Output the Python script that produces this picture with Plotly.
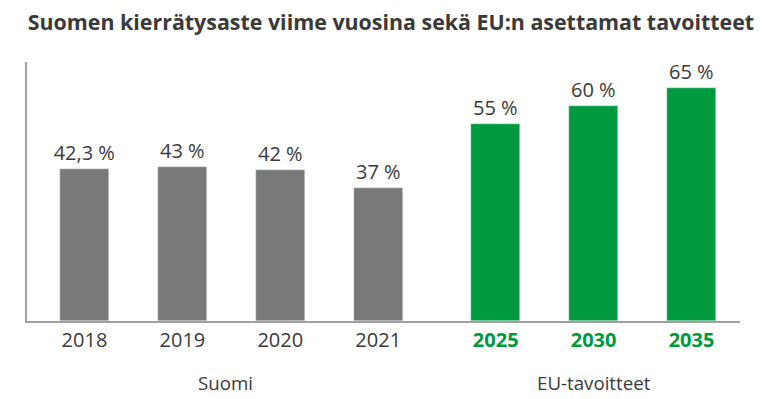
import plotly.graph_objects as go

title = "Suomen kierrätysaste viime vuosina sekä EU:n asettamat tavoitteet"
fi_years = ["2018", "2019", "2020", "2021"]
fi_values = [42.3, 43, 42, 37]
fi_labels = ["42,3 %", "43 %", "42 %", "37 %"]
eu_years = ["2025", "2030", "2035"]
eu_values = [55, 60, 65]
eu_labels = ["55 %", "60 %", "65 %"]
group_names = ["Suomi", "EU-tavoitteet"]

GRAY = "#7a7979"
GREEN = "#009a3e"
TEXT = "#3a3a3a"
GAP = 0.2

fi_x = list(range(len(fi_years)))
eu_x = [len(fi_years) + GAP + i for i in range(len(eu_years))]

fig = go.Figure()
fig.add_bar(x=fi_x, y=fi_values, text=fi_labels, marker_color=GRAY, width=0.5,
            textposition="outside", cliponaxis=False, constraintext="none",
            textfont=dict(family="Open Sans", size=20, color=TEXT))
fig.add_bar(x=eu_x, y=eu_values, text=eu_labels, marker_color=GREEN, width=0.5,
            textposition="outside", cliponaxis=False, constraintext="none",
            textfont=dict(family="Open Sans", size=20, color=TEXT))

ticktext = fi_years + [f"<b><span style='color:{GREEN}'>{y}</span></b>" for y in eu_years]

fig.update_layout(
    width=770, height=399,
    margin=dict(l=27, r=30, t=62, b=78, autoexpand=False),
    plot_bgcolor="white", paper_bgcolor="white",
    showlegend=False,
    bargap=0,
    uniformtext=dict(mode=False),
    title=dict(text=f"<b>{title}</b>", x=0.036, xanchor="left", y=0.943, yanchor="middle",
               font=dict(family="Open Sans", size=21.4, color=TEXT)),
    xaxis=dict(tickmode="array", tickvals=fi_x + eu_x, ticktext=ticktext,
               range=[-0.587, 6.695], showgrid=False, zeroline=False, automargin=False,
               showline=True, linecolor="#a0a0a0", linewidth=2, ticks="",
               tickfont=dict(family="Open Sans", size=20, color=TEXT)),
    yaxis=dict(range=[0, 72.2], showgrid=False, zeroline=False, showticklabels=False,
               automargin=False,
               showline=True, linecolor="#a0a0a0", linewidth=2, ticks=""),
)

fig.add_annotation(x=sum(fi_x) / len(fi_x), y=-0.239, xref="x", yref="paper", xshift=-6,
                   text=group_names[0], showarrow=False, yanchor="middle",
                   font=dict(family="Open Sans", size=18.7, color=TEXT))
fig.add_annotation(x=sum(eu_x) / len(eu_x), y=-0.239, xref="x", yref="paper",
                   text=group_names[1], showarrow=False, yanchor="middle",
                   font=dict(family="Open Sans", size=18.7, color=TEXT))

fig.write_html("out.html", config={"displayModeBar": False},
               post_script="document.body.style.margin='0';")
